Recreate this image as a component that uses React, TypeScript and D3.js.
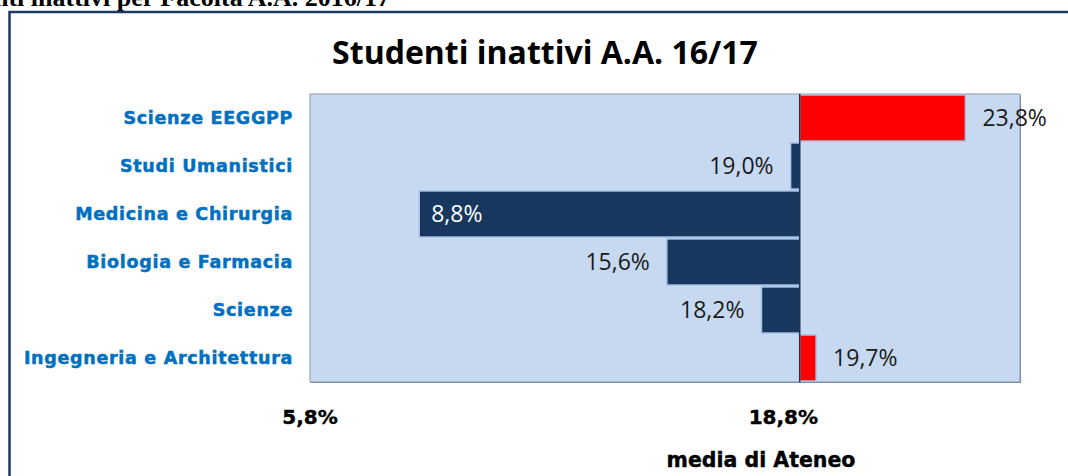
import * as d3 from "d3";
import React from "react";

const categories = [
  "Scienze EEGGPP",
  "Studi Umanistici",
  "Medicina e Chirurgia",
  "Biologia e Farmacia",
  "Scienze",
  "Ingegneria e Architettura",
];
const values = [23.8, 19.0, 8.8, 15.6, 18.2, 19.7];
const tickValues = [5.8, 18.8];
const axisMin = 5.8;
const axisMax = 25.3;
const axisCross = 19.25;

const W = 1068;
const H = 476;
const plot = { left: 310, right: 1020, top: 94, bottom: 382 };

const fmt = (v: number) => v.toFixed(1).replace(".", ",") + "%";

export default function App() {
  const x = d3.scaleLinear().domain([axisMin, axisMax]).range([plot.left, plot.right]);
  const y = d3
    .scaleBand()
    .domain(categories)
    .range([plot.top, plot.bottom])
    .paddingInner(0.04)
    .paddingOuter(0.02);

  const x0 = x(axisCross);
  const labelFont = "'Open Sans', 'Liberation Sans', sans-serif";
  const boldFont = "'DejaVu Sans', sans-serif";

  return (
    <svg
      width={W}
      height={H}
      style={{ position: "absolute", left: 0, top: 0, background: "#fff" }}
    >
      {/* page heading, cut at the top */}
      <text
        x={390}
        y={6}
        textAnchor="end"
        fontFamily="'Liberation Serif', serif"
        fontWeight="bold"
        fontSize={26}
      >
        Studenti inattivi per Facoltà A.A. 2016/17
      </text>
      {/* frame */}
      <path d={`M9.5,${H} V12 H${W}`} fill="none" stroke="#203864" strokeWidth={2.5} />

      <text
        x={545}
        y={64}
        textAnchor="middle"
        fontFamily={labelFont}
        fontWeight="bold"
        fontSize={32}
        fill="#000"
      >
        Studenti inattivi A.A. 16/17
      </text>

      {/* plot area */}
      <rect
        x={plot.left + 1}
        y={plot.top + 1}
        width={plot.right - plot.left}
        height={plot.bottom - plot.top}
        fill="#4f6a8f"
      />
      <rect
        x={plot.left}
        y={plot.top}
        width={plot.right - plot.left}
        height={plot.bottom - plot.top}
        fill="#c6d9f0"
        stroke="#9aa6b4"
        strokeWidth={1.2}
      />

      {categories.map((c, i) => {
        const v = values[i];
        const xv = x(v);
        const bx = Math.min(xv, x0);
        const bw = Math.abs(xv - x0);
        const by = y(c)!;
        const bh = y.bandwidth();
        const above = v > axisCross;
        let lx: number;
        let anchor: "start" | "end";
        let fill = "#1a1a1a";
        if (above) {
          lx = xv + 17;
          anchor = "start";
        } else if (xv - plot.left < 130) {
          lx = xv + 12;
          anchor = "start";
          fill = "#ffffff";
        } else {
          lx = xv - 17;
          anchor = "end";
        }
        return (
          <g key={c}>
            <rect
              x={bx}
              y={by}
              width={bw}
              height={bh}
              fill={above ? "#ff0000" : "#17375e"}
              stroke="#a9c4e8"
              strokeWidth={1.5}
            />
            <text
              x={lx}
              y={by + bh / 2}
              dy="0.36em"
              textAnchor={anchor}
              fontFamily={labelFont}
              fontSize={23}
              fill={fill}
            >
              {fmt(v)}
            </text>
            <text
              x={293}
              y={by + bh / 2}
              dy="0.36em"
              textAnchor="end"
              fontFamily={boldFont}
              fontWeight="bold"
              fontSize={17.5}
              letterSpacing={0.7}
              stroke="#0070c0"
              strokeWidth={0.5}
              fill="#0070c0"
            >
              {c}
            </text>
          </g>
        );
      })}

      {/* vertical axis at the crossing value */}
      <line x1={x0} x2={x0} y1={plot.top} y2={plot.bottom} stroke="#1f3350" strokeWidth={1.5} />

      {tickValues.map((t) => (
        <text
          key={t}
          x={x(t)}
          y={424}
          textAnchor="middle"
          fontFamily={boldFont}
          fontWeight="bold"
          fontSize={20}
          stroke="#000"
          strokeWidth={0.4}
          fill="#000"
        >
          {fmt(t)}
        </text>
      ))}
      <text
        x={761}
        y={467}
        textAnchor="middle"
        fontFamily={boldFont}
        fontWeight="bold"
        fontSize={20.5}
        stroke="#000"
        strokeWidth={0.4}
        fill="#000"
      >
        media di Ateneo
      </text>
    </svg>
  );
}
